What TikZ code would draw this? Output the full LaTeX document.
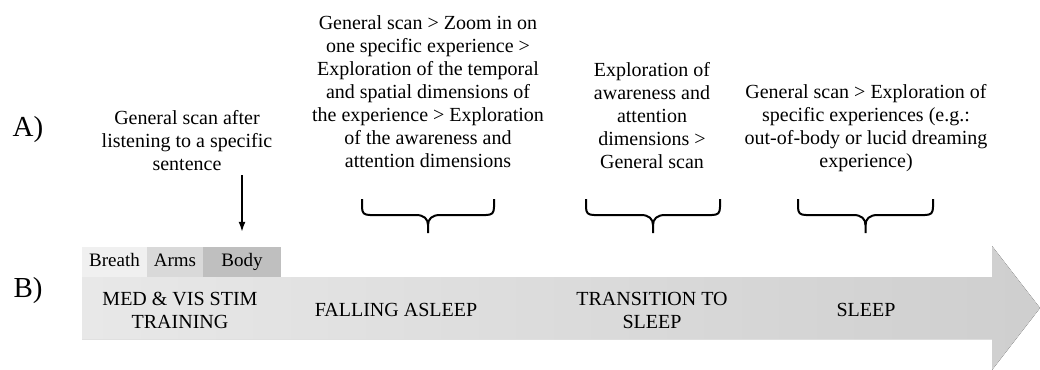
\documentclass[tikz,border=0pt]{standalone}
\usepackage{fontspec}
\setmainfont{Liberation Serif}
\usetikzlibrary{arrows.meta}

\begin{document}
\begin{tikzpicture}[x=1pt,y=-1pt,
  txt/.style={align=center,inner sep=0pt,font=\fontsize{20}{23}\selectfont},
  tab/.style={inner sep=0pt,minimum height=30pt,text height=13pt,text depth=4pt,font=\fontsize{19}{23}\selectfont},
  part/.style={inner sep=0pt,font=\fontsize{29}{32}\selectfont},
  brace/.style={line width=2pt,line join=round},
  >={Latex[length=10pt,width=7pt]}]

\useasboundingbox (0,0) rectangle (1040,369);

\fill[left color=gray!18,right color=gray!38] (82,277) -- (992,277) -- (992,246) -- (1040,308) -- (992,370) -- (992,339) -- (82,339) -- cycle;

\node[part](part a) at (28,130) {A)};
\node[part](part b) at (28,291) {B)};

\node[tab,fill=gray!12,minimum width=65pt](breath) at (114.5,262) {Breath};
\node[tab,fill=gray!30,minimum width=56pt](arms) at (175,262) {Arms};
\node[tab,fill=gray!50,minimum width=78pt](body) at (242,262) {Body};

\node[txt](training) at (180,310) {MED \& VIS STIM\\TRAINING};
\node[txt](falling asleep) at (396,310) {FALLING ASLEEP};
\node[txt](transition) at (652,310) {TRANSITION TO\\SLEEP};
\node[txt](sleep) at (866,310) {SLEEP};

\node[txt,anchor=north](scan sentence) at (187,110) {General scan after\\listening to a specific\\sentence};
\node[txt,anchor=north](scan zoom) at (428,15) {General scan > Zoom in on\\one specific experience >\\Exploration of the temporal\\and spatial dimensions of\\the experience > Exploration\\of the awareness and\\attention dimensions};
\node[txt,anchor=north](scan awareness) at (652,62) {Exploration of\\awareness and\\attention\\dimensions >\\General scan};
\node[txt,anchor=north](scan experiences) at (866,84) {General scan > Exploration of\\specific experiences (e.g.:\\out-of-body or lucid dreaming\\experience)};

\coordinate (cue top) at (242,175);
\draw[->,line width=1.6pt,shorten >=15pt] (cue top) to (body.north);

\foreach \l/\r in {362/494,586/720,798/933}{
  \pgfmathsetmacro{\m}{(\l+\r)/2}
  \draw[brace] (\l,199) -- (\l,207) .. controls (\l,213) and (\l+2,215) .. (\l+8,215) -- (\m-12,215) .. controls (\m-4,215) and (\m,219) .. (\m,225) -- (\m,233);
  \draw[brace] (\r,199) -- (\r,207) .. controls (\r,213) and (\r-2,215) .. (\r-8,215) -- (\m+12,215) .. controls (\m+4,215) and (\m,219) .. (\m,225);
}

\end{tikzpicture}
\end{document}
